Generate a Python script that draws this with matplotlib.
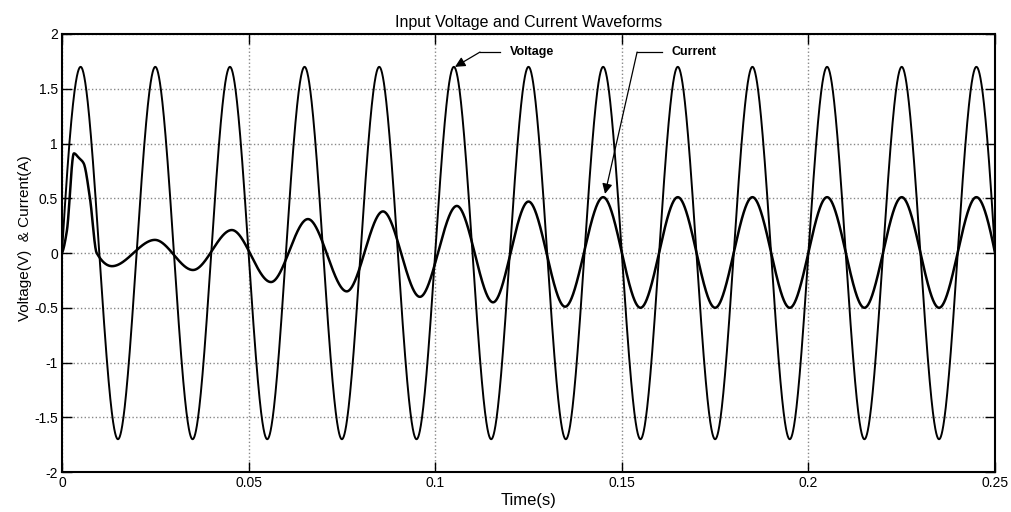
import numpy as np
import matplotlib
matplotlib.use("Agg")
import matplotlib.pyplot as plt

plt.rcParams['font.family'] = ['Liberation Sans', 'DejaVu Sans']

# waveform knots (time in s)
volt_t = [0.0, 0.005, 0.015, 0.025, 0.035, 0.045, 0.055, 0.065, 0.075, 0.085,
          0.095, 0.105, 0.115, 0.125, 0.135, 0.145, 0.155, 0.165, 0.175,
          0.185, 0.195, 0.205, 0.215, 0.225, 0.235, 0.245, 0.25]
volt_v = [0.0, 1.7, -1.7, 1.7, -1.7, 1.7, -1.7, 1.7, -1.7, 1.7,
          -1.7, 1.7, -1.7, 1.7, -1.7, 1.7, -1.7, 1.7, -1.7,
          1.7, -1.7, 1.7, -1.7, 1.7, -1.7, 1.7, 0.0]

cur_t = [0.0, 0.0013, 0.0032, 0.0045, 0.0058, 0.0075, 0.0093, 0.0134, 0.0249,
         0.0351, 0.0455, 0.056, 0.0659, 0.0763, 0.086, 0.0959, 0.1058, 0.1155,
         0.125, 0.1348, 0.145, 0.155, 0.165, 0.175, 0.185, 0.195, 0.205,
         0.215, 0.225, 0.235, 0.245, 0.25]
cur_v = [0.0, 0.2, 0.91, 0.87, 0.82, 0.5, 0.0, -0.12, 0.12,
         -0.155, 0.21, -0.265, 0.31, -0.35, 0.38, -0.40, 0.43, -0.45,
         0.47, -0.49, 0.51, -0.5, 0.51, -0.5, 0.51, -0.5, 0.51,
         -0.5, 0.51, -0.5, 0.51, 0.0]

xticks = [0, 0.05, 0.1, 0.15, 0.2, 0.25]
xtick_labels = ['0', '0.05', '0.1', '0.15', '0.2', '0.25']
yticks = [-2, -1.5, -1, -0.5, 0, 0.5, 1, 1.5, 2]
ytick_labels = ['-2', '-1.5', '-1', '-0.5', '0', '0.5', '1', '1.5', '2']


def pchip(xk, yk, xs):
    # monotone cubic through the knots (Fritsch-Carlson)
    xk = np.asarray(xk, float)
    yk = np.asarray(yk, float)
    h = np.diff(xk)
    d = np.diff(yk) / h
    m = np.zeros_like(yk)
    for i in range(1, len(xk) - 1):
        if d[i - 1] * d[i] > 0:
            w1 = 2 * h[i] + h[i - 1]
            w2 = h[i] + 2 * h[i - 1]
            m[i] = (w1 + w2) / (w1 / d[i - 1] + w2 / d[i])
    for i0, j0, j1 in ((0, 0, 1), (-1, -1, -2)):
        hh0, hh1 = h[j0], h[j1]
        s = ((2 * hh0 + hh1) * d[j0] - hh0 * d[j1]) / (hh0 + hh1)
        if np.sign(s) != np.sign(d[j0]):
            s = 0.0
        elif np.sign(d[j0]) != np.sign(d[j1]) and abs(s) > 3 * abs(d[j0]):
            s = 3 * d[j0]
        m[i0] = s
    idx = np.clip(np.searchsorted(xk, xs) - 1, 0, len(xk) - 2)
    t = (xs - xk[idx]) / h[idx]
    h00 = 2 * t**3 - 3 * t**2 + 1
    h10 = t**3 - 2 * t**2 + t
    h01 = -2 * t**3 + 3 * t**2
    h11 = t**3 - t**2
    return (h00 * yk[idx] + h10 * h[idx] * m[idx]
            + h01 * yk[idx + 1] + h11 * h[idx] * m[idx + 1])


tt = np.linspace(0, 0.25, 5001)

fig = plt.figure(figsize=(10.11, 5.12), dpi=100)
ax = fig.add_axes([0.0613, 0.078, 0.9229, 0.8556])

ax.plot(tt, pchip(volt_t, volt_v, tt), color='black', lw=1.4)
ax.plot(tt, pchip(cur_t, cur_v, tt), color='black', lw=1.8)

ax.set_xlim(0, 0.25)
ax.set_ylim(-2, 2)
ax.set_xticks(xticks)
ax.set_xticklabels(xtick_labels)
ax.set_yticks(yticks)
ax.set_yticklabels(ytick_labels)
ax.tick_params(direction='in', length=7, width=1, top=True, right=True,
               labelsize=10, pad=3)
ax.grid(True, color='#888888', linestyle=':', linewidth=1)
for sp in ax.spines.values():
    sp.set_linewidth(1.5)

ax.set_title('Input Voltage and Current Waveforms', fontsize=11.5, pad=5)
ax.set_xlabel('Time(s)', fontsize=12, labelpad=2)
ax.set_ylabel('Voltage(V)  & Current(A)', fontsize=11)
ax.yaxis.set_label_coords(-0.032, 0.535)

# callouts
ax.plot([0.112, 0.1174], [1.835, 1.835], color='black', lw=0.9)
ax.annotate('', xy=(0.1053, 1.70), xytext=(0.112, 1.835),
            arrowprops=dict(arrowstyle='-|>', color='black', lw=0.9,
                            mutation_scale=15, shrinkA=0, shrinkB=0))
ax.text(0.1200, 1.835, 'Voltage', fontsize=9, fontweight='bold', va='center')

ax.plot([0.1541, 0.1608], [1.835, 1.835], color='black', lw=0.9)
ax.annotate('', xy=(0.1455, 0.54), xytext=(0.1541, 1.835),
            arrowprops=dict(arrowstyle='-|>', color='black', lw=0.9,
                            mutation_scale=15, shrinkA=0, shrinkB=0))
ax.text(0.1632, 1.835, 'Current', fontsize=9, fontweight='bold', va='center')

fig.savefig('out.png', dpi=100)
